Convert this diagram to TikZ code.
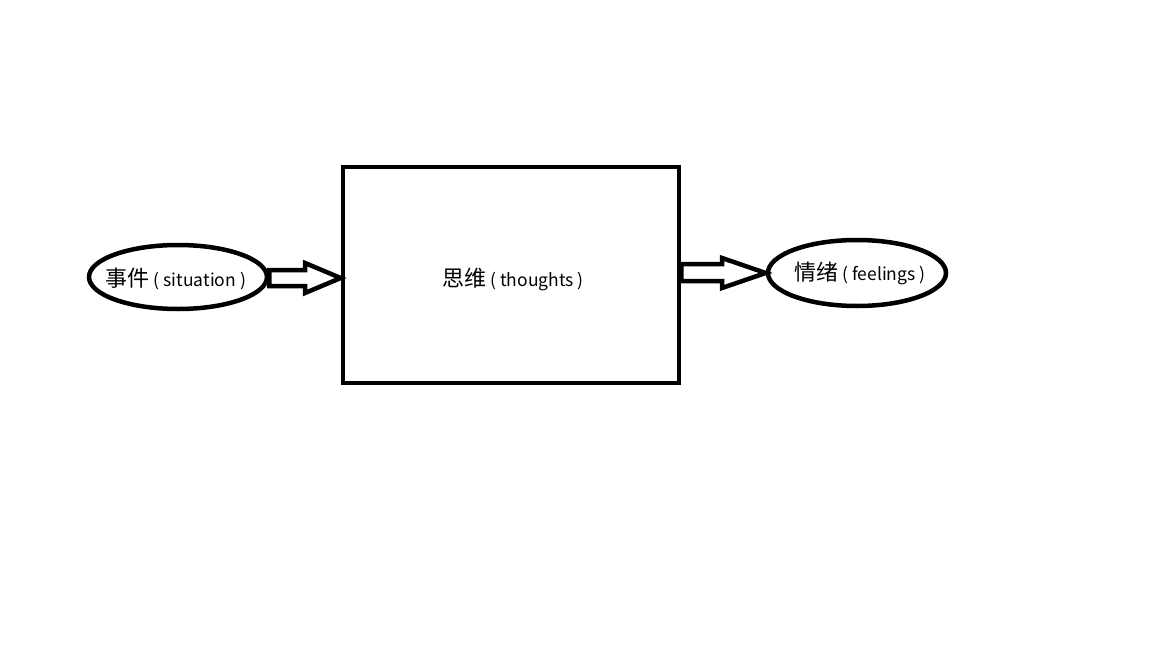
\documentclass[tikz,border=0pt]{standalone}
\usepackage{fontspec}
\usetikzlibrary{shapes.geometric}
\newfontfamily\cjk{Noto Sans CJK SC}
\newcommand{\zhsz}{\fontsize{22}{24}\selectfont}
\newcommand{\latsz}{\fontsize{17.5}{20}\selectfont}
\begin{document}
\begin{tikzpicture}[x=1pt,y=-1pt,
  thick4/.style={line width=4.5pt, line join=miter},
  oval/.style={thick4, draw, ellipse, inner sep=0pt, font=\cjk},
  lbl/.style={anchor=base, inner sep=0pt, font=\cjk}]
\useasboundingbox[fill=white] (0,0) rectangle (1152,648);
% ellipses
\node[oval, minimum width=178pt, minimum height=64pt] (sit) at (178,277) {};
\node[oval, minimum width=178pt, minimum height=66pt] (fee) at (857,273) {};
% box
\node[thick4, draw, minimum width=336pt, minimum height=216pt] (tho) at (511,275) {};
% left arrow
\draw[thick4] (sit.east |- 0,270) -- (305,270) -- (305,263) -- (tho.west |- 0,278) -- (305,293) -- (305,286) -- (sit.east |- 0,286) -- cycle;
% right arrow
\draw[thick4] (tho.east |- 0,264) -- (722,264) -- (722,258) -- (fee.west) -- (722,288) -- (722,281) -- (tho.east |- 0,281) -- cycle;
% texts
\node[lbl] (tsit) at (176,286) {\zhsz 事件\latsz\ ( situation )};
\node[lbl] (ttho) at (513,286) {\zhsz 思维\latsz\ ( thoughts )};
\node[lbl] (tfee) at (860,280) {\zhsz 情绪\latsz\ ( feelings )};
\end{tikzpicture}
\end{document}
